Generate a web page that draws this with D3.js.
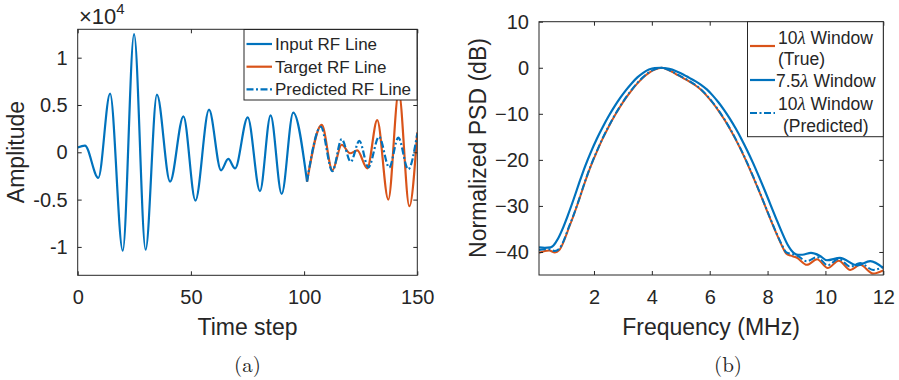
<!DOCTYPE html>
<html><head><meta charset="utf-8">
<script src="https://cdn.jsdelivr.net/npm/d3@7"></script>
<style>
html,body{margin:0;padding:0;background:#fff;}
svg{display:block;}
text{font-family:"Liberation Sans",Arial,Helvetica,sans-serif;fill:#262626;}
</style></head>
<body>
<svg id="chart" width="899" height="380"></svg>
<script>
// ---------- Data: panel (a) ----------
const inputTime = [0,3.2,9.1,14.3,19.9,24.9,30.0,35.0,40.8,46.7,52.0,58.0,63.3,66.5,69.5,75.1,80.5,85.2,90.1,95.2,101.3];
const inputAmp  = [0.05,0.07,-0.27,0.62,-1.04,1.25,-1.03,0.61,-0.31,0.38,-0.51,0.45,-0.19,-0.07,-0.17,0.37,-0.41,0.39,-0.44,0.42,-0.31];
const targetTime = [101.3,107.8,112.5,116.6,120.3,123.5,127.9,132.3,137.2,141.8,146.5,150];
const targetAmp  = [-0.31,0.29,-0.19,0.08,-0.01,0.02,-0.17,0.34,-0.50,0.64,-0.57,0.21];
const predTime = [101.3,107.4,112.5,116.6,120.6,124.4,128.4,133.1,137.6,141.6,146.0,150];
const predAmp  = [-0.31,0.27,-0.20,0.14,-0.10,0.12,-0.16,0.165,-0.16,0.155,-0.18,0.20];
const timeTicks = [0,50,100,150];
const ampTicks = [-1,-0.5,0,0.5,1];
const legendA = ["Input RF Line","Target RF Line","Predicted RF Line"];

// ---------- Data: panel (b) ----------
const freqTrue = [0.1,0.3,0.45,0.65,0.8,0.95,1.1,1.3,1.5,1.7,1.9,2.1,2.3,2.5,2.7,2.9,3.1,3.3,3.5,3.7,3.9,4.1,4.35,4.5,4.7,4.9,5.1,5.3,5.5,5.7,5.9,6.1,6.3,6.5,6.7,6.9,7.1,7.3,7.5,7.7,7.9,8.1,8.3,8.5,8.65,8.8,9.0,9.36,9.71,10.08,10.46,10.86,11.2,11.65,12];
const psdTrue  = [-40.2,-39.8,-39.7,-40.1,-39.6,-37.8,-35.3,-32.0,-28.4,-24.6,-21.2,-18.2,-15.4,-12.9,-10.6,-8.5,-6.6,-4.9,-3.4,-2.1,-1.1,-0.4,0,-0.3,-0.9,-1.6,-2.3,-3.0,-3.8,-4.8,-6.1,-7.6,-9.3,-11.2,-13.3,-15.6,-18.1,-20.8,-23.7,-26.7,-29.8,-32.9,-35.9,-38.7,-40.4,-40.8,-41.2,-42.8,-41.6,-43.5,-41.9,-43.9,-42.8,-44.7,-44.0];
const freq75 = [0.1,0.3,0.5,0.6,0.75,0.9,1.1,1.3,1.5,1.7,1.9,2.1,2.3,2.5,2.7,2.9,3.1,3.3,3.5,3.7,3.9,4.1,4.3,4.5,4.7,4.9,5.1,5.3,5.5,5.7,5.9,6.1,6.3,6.5,6.7,6.9,7.1,7.3,7.5,7.7,7.9,8.1,8.3,8.5,8.7,8.9,9.05,9.2,9.5,9.8,10.05,10.5,11.1,11.55,12];
const psd75  = [-39.0,-39.1,-39.0,-38.6,-37.2,-35.2,-32.0,-28.5,-24.8,-21.3,-18.2,-15.4,-12.9,-10.6,-8.5,-6.6,-4.9,-3.4,-2.1,-1.1,-0.4,-0.05,0,-0.1,-0.4,-0.9,-1.5,-2.2,-2.9,-3.7,-4.7,-6.0,-7.5,-9.2,-11.1,-13.2,-15.5,-18.0,-20.7,-23.6,-26.6,-29.7,-32.8,-35.8,-38.5,-40.2,-40.6,-40.6,-40.2,-40.8,-41.8,-41.3,-42.9,-42.0,-43.5];
const freqPred = [0.1,0.3,0.45,0.65,0.8,0.95,1.1,1.3,1.5,1.7,1.9,2.1,2.3,2.5,2.7,2.9,3.1,3.3,3.5,3.7,3.9,4.1,4.35,4.5,4.7,4.9,5.1,5.3,5.5,5.7,5.9,6.1,6.3,6.5,6.7,6.9,7.1,7.3,7.5,7.7,7.9,8.1,8.3,8.5,8.65,8.8,9.0,9.36,9.71,10.08,10.46,10.86,11.2,11.65,12];
const psdPred  = [-39.6,-39.4,-39.4,-39.8,-39.3,-37.6,-35.1,-31.9,-28.3,-24.5,-21.1,-18.1,-15.3,-12.8,-10.5,-8.4,-6.5,-4.8,-3.3,-2.0,-1.0,-0.35,0,-0.3,-0.85,-1.5,-2.2,-2.9,-3.7,-4.7,-6.0,-7.5,-9.2,-11.1,-13.2,-15.5,-18.0,-20.7,-23.6,-26.6,-29.7,-32.8,-35.8,-38.5,-40.1,-40.4,-40.7,-42.0,-41.1,-42.9,-41.5,-43.2,-42.4,-43.9,-43.2];
const freqTicks = [2,4,6,8,10,12];
const psdTicks = [-40,-30,-20,-10,0,10];

// ---------- Styles ----------
const BLUE = "#0072BD", ORANGE = "#D95319", AX = "#262626";
const DASHDOT = "7,2.5,2,2.5";

const svg = d3.select("#chart");

function drawAxesBox(g, x, y, xTicks, yTicks, xFmt, yFmt) {
  const [xa, xb] = x.range(), [yb, ya] = y.range();
  const h = yb - ya, w = xb - xa;
  g.append("g").attr("transform", `translate(0,${yb})`)
    .call(d3.axisBottom(x).tickValues(xTicks).tickSizeInner(-4).tickSizeOuter(0).tickPadding(15).tickFormat(xFmt))
    .call(s => { s.select(".domain").remove(); s.selectAll("line").attr("stroke", AX);
                 s.selectAll("text").attr("font-size", 20).attr("fill", AX).attr("font-family", null); });
  g.append("g").attr("transform", `translate(0,${ya})`)
    .call(d3.axisTop(x).tickValues(xTicks).tickSizeInner(-4).tickSizeOuter(0).tickFormat(""))
    .call(s => { s.select(".domain").remove(); s.selectAll("line").attr("stroke", AX); });
  g.append("g").attr("transform", `translate(${xa},0)`)
    .call(d3.axisLeft(y).tickValues(yTicks).tickSizeInner(-4).tickSizeOuter(0).tickPadding(10).tickFormat(yFmt))
    .call(s => { s.select(".domain").remove(); s.selectAll("line").attr("stroke", AX);
                 s.selectAll("text").attr("font-size", 20).attr("fill", AX).attr("font-family", null); });
  g.append("g").attr("transform", `translate(${xb},0)`)
    .call(d3.axisRight(y).tickValues(yTicks).tickSizeInner(-4).tickSizeOuter(0).tickFormat(""))
    .call(s => { s.select(".domain").remove(); s.selectAll("line").attr("stroke", AX); });
  g.append("rect").attr("x", xa).attr("y", ya).attr("width", w).attr("height", h)
    .attr("fill", "none").attr("stroke", AX).attr("stroke-width", 1);
}

// ================= Panel (a) =================
const xA = d3.scaleLinear().domain([0, 150]).range([77.7, 417.3]);
const yA = d3.scaleLinear().domain([-1.3, 1.3]).range([275.3, 29.3]);
const gA = svg.append("g");
svg.append("clipPath").attr("id", "clipA").append("rect")
  .attr("x", 77.7).attr("y", 29.3).attr("width", 417.3 - 77.7).attr("height", 275.3 - 29.3);

const lineA = d3.line().x(d => xA(d[0])).y(d => yA(d[1])).curve(d3.curveMonotoneX);
const plotA = gA.append("g").attr("clip-path", "url(#clipA)");
plotA.append("path").datum(d3.zip(inputTime, inputAmp)).attr("d", lineA)
  .attr("fill", "none").attr("stroke", BLUE).attr("stroke-width", 2.2);
plotA.append("path").datum(d3.zip(targetTime, targetAmp)).attr("d", lineA)
  .attr("fill", "none").attr("stroke", ORANGE).attr("stroke-width", 2.2);
plotA.append("path").datum(d3.zip(predTime, predAmp)).attr("d", lineA)
  .attr("fill", "none").attr("stroke", BLUE).attr("stroke-width", 2.2).attr("stroke-dasharray", DASHDOT);

drawAxesBox(gA, xA, yA, timeTicks, ampTicks, d3.format("d"), d => d3.format("")(d).replace("−", "-"));

// multiplier
const mult = gA.append("text").attr("x", 79).attr("y", 24).attr("font-size", 22);
mult.append("tspan").attr("font-weight", 300).text("\u00D710");
mult.append("tspan").attr("dy", -10).attr("font-size", 15).text("4");

// axis labels
gA.append("text").attr("x", 247.5).attr("y", 335).attr("text-anchor", "middle").attr("font-size", 23).text("Time step");
gA.append("text").attr("transform", "translate(24,152) rotate(-90)").attr("text-anchor", "middle").attr("font-size", 23).text("Amplitude");
gA.append("text").attr("x", 247.5).attr("y", 372).attr("text-anchor", "middle").attr("font-size", 21)
  .style("font-family", "'Latin Modern Roman','CMU Serif','Liberation Serif',serif").text("(a)");

// legend (a)
const legA = gA.append("g");
legA.append("rect").attr("x", 244).attr("y", 29.5).attr("width", 173).attr("height", 70.5)
  .attr("fill", "#fff").attr("stroke", AX).attr("stroke-width", 1);
const legAStyles = [{c: BLUE, d: null}, {c: ORANGE, d: null}, {c: BLUE, d: DASHDOT}];
legendA.forEach((t, i) => {
  const yy = 44 + i * 22.7;
  legA.append("line").attr("x1", 246.5).attr("x2", 272).attr("y1", yy).attr("y2", yy)
    .attr("stroke", legAStyles[i].c).attr("stroke-width", 2.2).attr("stroke-dasharray", legAStyles[i].d);
  legA.append("text").attr("x", 275).attr("y", yy + 6).attr("font-size", 17).text(t);
});

// ================= Panel (b) =================
const xB = d3.scaleLinear().domain([0.1, 12]).range([539, 883.3]);
const yB = d3.scaleLinear().domain([-45, 10]).range([275, 21.7]);
const gB = svg.append("g");
svg.append("clipPath").attr("id", "clipB").append("rect")
  .attr("x", 539).attr("y", 21.7).attr("width", 883.3 - 539).attr("height", 275 - 21.7);
const lineB = d3.line().x(d => xB(d[0])).y(d => yB(d[1])).curve(d3.curveMonotoneX);
const plotB = gB.append("g").attr("clip-path", "url(#clipB)");
plotB.append("path").datum(d3.zip(freqTrue, psdTrue)).attr("d", lineB)
  .attr("fill", "none").attr("stroke", ORANGE).attr("stroke-width", 2);
plotB.append("path").datum(d3.zip(freq75, psd75)).attr("d", lineB)
  .attr("fill", "none").attr("stroke", BLUE).attr("stroke-width", 2.2);
plotB.append("path").datum(d3.zip(freqPred, psdPred)).attr("d", lineB)
  .attr("fill", "none").attr("stroke", BLUE).attr("stroke-width", 2).attr("stroke-dasharray", DASHDOT);

drawAxesBox(gB, xB, yB, freqTicks, psdTicks, d3.format("d"), d3.format("d"));

gB.append("text").attr("x", 711).attr("y", 335).attr("text-anchor", "middle").attr("font-size", 23).text("Frequency (MHz)");
gB.append("text").attr("transform", "translate(486,148) rotate(-90)").attr("text-anchor", "middle").attr("font-size", 23).text("Normalized PSD (dB)");
gB.append("text").attr("x", 728).attr("y", 372).attr("text-anchor", "middle").attr("font-size", 21)
  .style("font-family", "'Latin Modern Roman','CMU Serif','Liberation Serif',serif").text("(b)");

// legend (b)
const legB = gB.append("g");
legB.append("rect").attr("x", 747.5).attr("y", 21.7).attr("width", 883.3 - 747.5).attr("height", 115)
  .attr("fill", "#fff").attr("stroke", AX).attr("stroke-width", 1);
const legBItems = [
  {c: ORANGE, d: null, ly: 46, lines: [["10", "λ", " Window"], ["(True)"]], ty: [38, 59], tx: [778, 778]},
  {c: BLUE, d: null, ly: 80, lines: [["7.5", "λ", " Window"]], ty: [81], tx: [776]},
  {c: BLUE, d: DASHDOT, ly: 113, lines: [["10", "λ", " Window"], ["(Predicted)"]], ty: [104, 126], tx: [778, 783]}
];
legBItems.forEach(it => {
  legB.append("line").attr("x1", 750).attr("x2", 775).attr("y1", it.ly).attr("y2", it.ly)
    .attr("stroke", it.c).attr("stroke-width", 2.2).attr("stroke-dasharray", it.d);
  it.lines.forEach((parts, j) => {
    const t = legB.append("text").attr("x", it.tx[j]).attr("y", it.ty[j] + 6).attr("font-size", 17.5);
    if (parts.length === 1) { t.text(parts[0]); }
    else {
      t.append("tspan").text(parts[0]);
      t.append("tspan").style("font-family", "'Liberation Serif',serif").style("font-style", "italic").attr("font-size", 19).text(parts[1]);
      t.append("tspan").text(parts[2]);
    }
  });
});
</script>
</body></html>
